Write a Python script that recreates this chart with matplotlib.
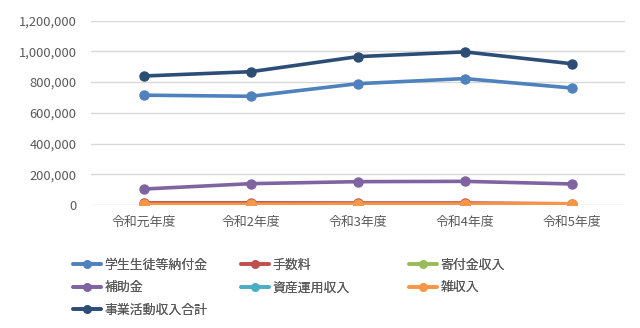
import matplotlib
matplotlib.use('Agg')
import matplotlib.pyplot as plt
from matplotlib.ticker import FuncFormatter

plt.rcParams['font.family'] = ['Noto Sans CJK JP', 'DejaVu Sans']

years = ['令和元年度', '令和2年度', '令和3年度', '令和4年度', '令和5年度']

tuition = [715000, 708000, 790000, 823000, 762000]
fees = [14000, 14000, 13000, 13000, 8000]
donations = [2000, 2000, 2000, 2000, 2000]
subsidies = [104000, 139000, 152000, 154000, 137000]
investment = [1000, 1000, 1000, 1000, 0]
misc = [5000, 5000, 6000, 6000, 8000]
total = [840000, 868000, 966000, 997000, 920000]

series = [
    ('学生生徒等納付金', tuition, '#4F81BD'),
    ('手数料', fees, '#C0504D'),
    ('寄付金収入', donations, '#9BBB59'),
    ('補助金', subsidies, '#8064A2'),
    ('資産運用収入', investment, '#4BACC6'),
    ('雑収入', misc, '#F79646'),
    ('事業活動収入合計', total, '#2C4D75'),
]

W, H = 640, 328
fig = plt.figure(figsize=(W / 100, H / 100), dpi=100)
ax = fig.add_axes([90.5 / W, 1 - 205 / H, (625 - 90.5) / W, (205 - 20.7) / H])

x = list(range(len(years)))
handles = {}
for name, vals, color in series:
    line, = ax.plot(x, vals, color=color, lw=2.6, marker='o', ms=6.5,
                    solid_capstyle='round', label=name)
    handles[name] = line

ax.set_xlim(-0.5, len(years) - 0.5)
ax.set_ylim(0, 1200000)
ax.set_yticks(range(0, 1200001, 200000))
ax.yaxis.set_major_formatter(FuncFormatter(lambda v, p: f'{int(v):,}'))
ax.set_xticks(x)
ax.set_xticklabels(years)
ax.tick_params(axis='both', length=0, labelsize=9.3, colors='#595959')
ax.tick_params(axis='x', pad=8)
ax.tick_params(axis='y', pad=10)
ax.grid(axis='y', color='#D9D9D9', lw=1)
ax.set_axisbelow(True)
for s in ax.spines.values():
    s.set_visible(False)

# legend laid out in three columns, filled row by row
columns = [
    (['学生生徒等納付金', '補助金', '事業活動収入合計'], 73),
    (['手数料', '資産運用収入'], 241),
    (['寄付金収入', '雑収入'], 409),
]
for names, left in columns:
    leg = fig.legend([handles[n] for n in names], names,
                     loc='upper left', bbox_to_anchor=(left / W, 1 - 259 / H),
                     frameon=False, fontsize=9.3, labelcolor='#595959',
                     handlelength=2.2, handletextpad=0.25,
                     labelspacing=0.72, borderpad=0, borderaxespad=0,
                     markerscale=0.8)
    fig.add_artist(leg)

fig.savefig('out.png', dpi=100)
